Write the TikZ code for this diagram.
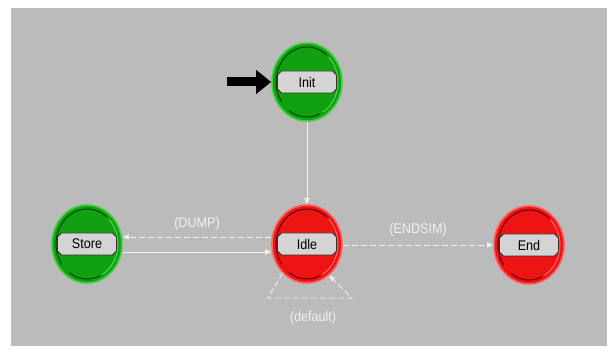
\documentclass[tikz,border=0pt]{standalone}
\usepackage{fontspec}
\setmainfont[FakeStretch=0.9]{Liberation Sans}
\usetikzlibrary{shapes.geometric,shapes.misc,arrows.meta}

\definecolor{canvas}{RGB}{187,187,187}
\definecolor{gfill}{RGB}{16,160,16}
\definecolor{grim}{RGB}{70,205,70}
\definecolor{gdark}{RGB}{0,55,0}
\definecolor{glight}{RGB}{90,215,90}
\definecolor{rfill}{RGB}{238,20,20}
\definecolor{rrim}{RGB}{255,95,95}
\definecolor{rdark}{RGB}{80,0,0}
\definecolor{rlight}{RGB}{255,110,110}
\definecolor{boxfill}{RGB}{212,212,212}
\definecolor{trans}{RGB}{240,240,240}

\tikzset{
  statenode/.style={ellipse, minimum width=70pt, minimum height=78pt,
    inner sep=0pt, line width=1.6pt},
  greenstate/.style={statenode, fill=gfill, draw=grim},
  redstate/.style={statenode, fill=rfill, draw=rrim},
  namebox/.style={chamfered rectangle, chamfered rectangle xsep=2pt,
    chamfered rectangle ysep=2pt, minimum width=59pt, minimum height=22pt,
    inner sep=0pt, fill=boxfill, draw=black!80, line width=0.8pt,
    font=\fontsize{14}{15}\selectfont, text=black},
  transition/.style={draw=trans, line width=0.9pt,
    -{Triangle[length=6pt,width=5pt,fill=trans]}},
  dashedtrans/.style={transition, dash pattern=on 6pt off 3pt},
  translabel/.style={font=\fontsize{14}{15}\selectfont, text=trans},
  entryarrow/.style={draw=black, line width=9pt,
    -{Triangle[length=15pt,width=23pt]}},
  rimline/.style={line width=0.9pt}
}

% inner rim of a state circle: dark on the upper left, light on the lower right
\newcommand{\staterim}[3]{%
  \draw[#2, rimline] (#1.center) ++(50:31pt and 35pt)
    arc[start angle=50, end angle=215, x radius=31pt, y radius=35pt];
  \draw[#2, rimline] (#1.center) ++(235:31pt and 35pt)
    arc[start angle=235, end angle=295, x radius=31pt, y radius=35pt];
  \draw[#3, rimline] (#1.center) ++(300:31pt and 35pt)
    arc[start angle=300, end angle=405, x radius=31pt, y radius=35pt];
}

\begin{document}
\begin{tikzpicture}[x=1pt, y=-1pt]
  % page and canvas
  \useasboundingbox (0,0) rectangle (613,352);
  \fill[white] (0,0) rectangle (613,352);
  \fill[canvas] (11,8) rectangle (607,346);

  % states
  \node[greenstate] (init)  at (307,82)  {};
  \node[greenstate] (store) at (87,244)  {};
  \node[redstate]   (idle)  at (307,244) {};
  \node[redstate]   (end)   at (529,245) {};

  \staterim{init}{gdark}{glight}
  \staterim{store}{gdark}{glight}
  \staterim{idle}{rdark}{rlight}
  \staterim{end}{rdark}{rlight}

  \node[namebox] (initlbl)  at (init)  {Init};
  \node[namebox] (storelbl) at (store) {Store};
  \node[namebox] (idlelbl)  at (idle)  {Idle};
  \node[namebox] (endlbl)   at (end)   {End};

  % initial-state marker
  \coordinate (entry) at (227,82);
  \draw[entryarrow] (entry) -- (init.west);

  % transitions
  \draw[transition] (init.south) -- (idle.north);
  \draw[dashedtrans] (idle.west |- 0,237) -- (store.east |- 0,237)
    node[midway, above=3pt, translabel] (dumplbl) {(DUMP)};
  \draw[transition] (store.east |- 0,252) -- (idle.west |- 0,252);
  \draw[dashedtrans] (idle.east |- 0,245) -- (end.west |- 0,245)
    node[midway, above=5pt, translabel] (endsimlbl) {(ENDSIM)};

  % self loop on Idle
  \coordinate (loopl) at (268,298);
  \coordinate (loopr) at (352,298);
  \draw[dashedtrans] (idle.230) -- (loopl) -- (loopr) -- (idle.305);
  \node[translabel] (defaultlbl) at (313,318) {(default)};
\end{tikzpicture}
\end{document}
